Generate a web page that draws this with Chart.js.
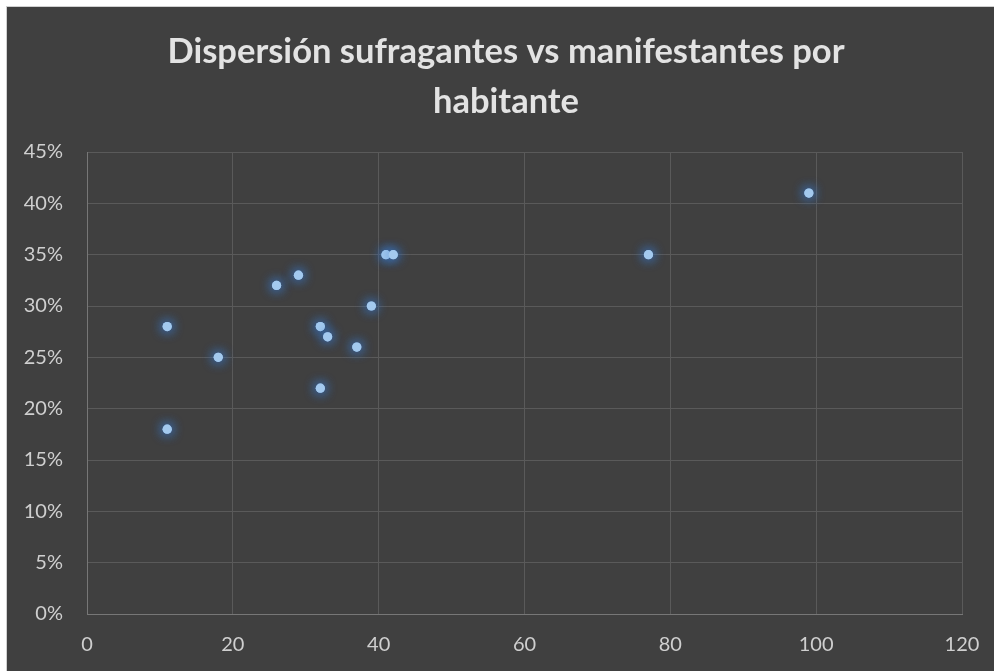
<!DOCTYPE html>
<html>
<head>
<meta charset="utf-8">
<script src="https://cdn.jsdelivr.net/npm/chart.js@4/dist/chart.umd.min.js"></script>
<style>
  html, body { margin: 0; padding: 0; background: #ffffff; }
  #wrap { position: absolute; left: 6px; top: 6px; width: 988px; height: 665px;
          border-left: 1px solid #d0d0d0; border-top: 1px solid #d0d0d0; background: #404040; }
  canvas { display: block; }
</style>
</head>
<body>
<div id="wrap"><canvas id="c" width="987" height="664"></canvas></div>
<script>
const chartTitle = ['Dispersión sufragantes vs manifestantes por', 'habitante'];
const manifestantes = [11, 18, 11, 26, 29, 41, 42, 39, 32, 33, 37, 32, 77, 99];
const sufragantes = [0.28, 0.25, 0.18, 0.32, 0.33, 0.35, 0.35, 0.30, 0.28, 0.27, 0.26, 0.22, 0.35, 0.41];
const xTicks = [0, 20, 40, 60, 80, 100, 120];
const yTicks = [0, 0.05, 0.10, 0.15, 0.20, 0.25, 0.30, 0.35, 0.40, 0.45];

const points = manifestantes.map((x, i) => ({ x: x, y: sufragantes[i] }));

// soft blue halo around each marker (Excel "glow" effect)
const glow = {
  id: 'glow',
  beforeDatasetsDraw(chart) {
    const ctx = chart.ctx;
    ctx.save();
    ctx.shadowColor = 'rgba(55,120,205,1)';
    ctx.shadowBlur = 12;
  },
  afterDatasetsDraw(chart) {
    const ctx = chart.ctx;
    chart.getDatasetMeta(0).controller.draw();
    ctx.restore();
  }
};

new Chart(document.getElementById('c'), {
  type: 'scatter',
  data: {
    datasets: [{
      data: points,
      backgroundColor: '#a3c9ee',
      borderWidth: 0,
      pointRadius: 4.6,
      pointHoverRadius: 4.6
    }]
  },
  options: {
    responsive: false,
    animation: false,
    layout: { padding: { left: 11, right: 0, top: 0, bottom: 0 } },
    plugins: {
      legend: { display: false },
      tooltip: { enabled: false },
      title: {
        display: true,
        text: chartTitle,
        color: '#e3e3e3',
        font: { family: 'Lato', weight: 'bold', size: 34.5, lineHeight: '50px' },
        padding: { top: 20, bottom: 25 }
      }
    },
    scales: {
      x: {
        type: 'linear',
        min: 0, max: 120,
        afterBuildTicks(axis) { axis.ticks = xTicks.map(v => ({ value: v })); },
        afterFit(axis) { axis.height = 57; axis.paddingRight = 32; },
        ticks: { color: '#cfcfcf', font: { family: 'Lato', size: 20 }, padding: 19, maxRotation: 0 },
        grid: { color: '#5a5a5a', lineWidth: 1, drawTicks: false },
        border: { color: '#777777', width: 1 }
      },
      y: {
        type: 'linear',
        min: 0, max: 0.45,
        afterBuildTicks(axis) { axis.ticks = yTicks.map(v => ({ value: v })); },
        afterFit(axis) { axis.width = 69; },
        ticks: {
          color: '#cfcfcf', font: { family: 'Lato', size: 20 }, padding: 24,
          callback: v => Math.round(v * 100) + '%'
        },
        grid: { color: '#5a5a5a', lineWidth: 1, drawTicks: false },
        border: { color: '#777777', width: 1 }
      }
    }
  },
  plugins: [glow]
});
</script>
</body>
</html>
